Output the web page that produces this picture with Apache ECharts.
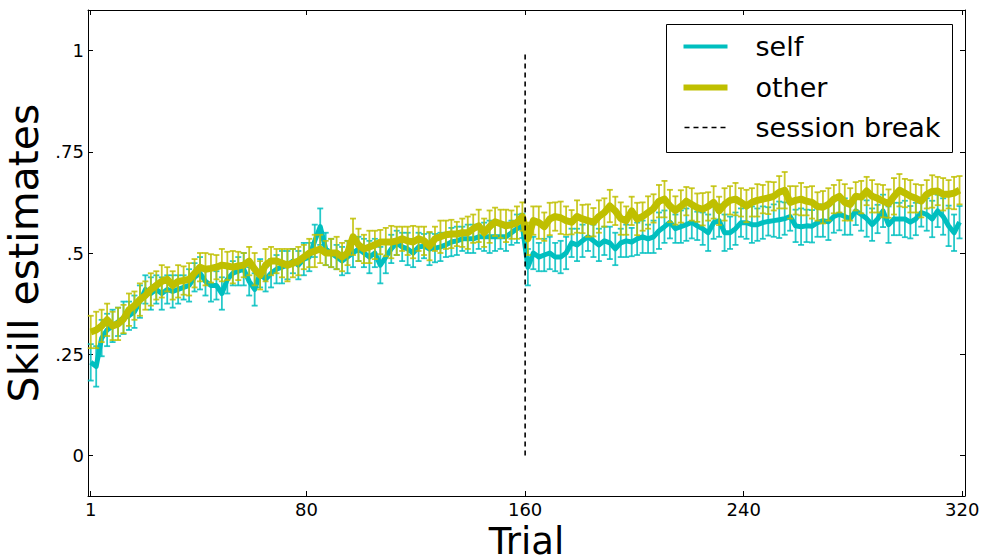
<!DOCTYPE html>
<html><head><meta charset="utf-8">
<script src="https://cdn.jsdelivr.net/npm/echarts@6/dist/echarts.min.js"></script>
<style>html,body{margin:0;padding:0;background:#fff}#c{width:987px;height:560px}</style>
</head><body><div id="c"></div>
<script>
const trials = [1,3,5,7,9,11,13,15,17,19,21,23,25,27,29,31,33,35,37,39,41,43,45,47,49,51,53,55,57,59,61,63,65,67,69,71,73,75,77,79,81,83,85,87,89,91,93,95,97,99,101,103,105,107,109,111,113,115,117,119,121,123,125,127,129,131,133,135,137,139,141,143,145,147,149,151,153,155,157,159,161,163,165,167,169,171,173,175,177,179,181,183,185,187,189,191,193,195,197,199,201,203,205,207,209,211,213,215,217,219,221,223,225,227,229,231,233,235,237,239,241,243,245,247,249,251,253,255,257,259,261,263,265,267,269,271,273,275,277,279,281,283,285,287,289,291,293,295,297,299,301,303,305,307,309,311,313,315,317,319];
const selfVals = [
.23,.22,.29,.31,.32,.33,.34,.345,.355,.38,
.41,.40,.41,.40,.41,.405,.41,.415,.42,.44,
.45,.43,.42,.42,.40,.435,.45,.455,.46,.43,
.41,.45,.435,.45,.46,.465,.47,.48,.47,.485,
.49,.53,.565,.51,.50,.49,.48,.49,.50,.51,
.50,.49,.50,.47,.49,.51,.525,.515,.51,.50,
.515,.517,.51,.512,.515,.52,.527,.53,.535,.535,
.535,.54,.54,.54,.54,.54,.54,.55,.56,.567,
.465,.50,.49,.495,.50,.49,.49,.50,.525,.52,
.53,.54,.53,.52,.53,.525,.51,.525,.53,.527,
.535,.54,.535,.54,.555,.565,.576,.56,.565,.57,
.576,.567,.56,.55,.575,.58,.55,.55,.56,.575,
.575,.57,.57,.575,.578,.58,.582,.585,.59,.567,
.565,.567,.566,.575,.58,.577,.59,.596,.59,.585,
.604,.595,.585,.57,.584,.604,.57,.584,.584,.584,
.576,.584,.60,.595,.584,.604,.59,.567,.55,.576];
const otherVals = [
.305,.31,.32,.335,.32,.325,.337,.36,.37,.385,
.395,.41,.42,.43,.435,.42,.43,.432,.435,.45,
.465,.46,.462,.465,.47,.468,.465,.468,.47,.48,
.46,.445,.47,.48,.48,.475,.47,.475,.48,.49,
.50,.505,.51,.50,.50,.50,.49,.50,.54,.52,
.51,.515,.52,.527,.527,.527,.53,.535,.53,.527,
.535,.53,.517,.535,.54,.545,.547,.547,.55,.55,
.56,.567,.55,.565,.577,.572,.567,.57,.575,.59,
.535,.58,.575,.565,.584,.59,.587,.58,.576,.59,
.584,.58,.576,.59,.60,.616,.604,.585,.58,.604,
.584,.59,.60,.61,.628,.633,.616,.605,.615,.628,
.62,.612,.608,.615,.625,.604,.62,.63,.633,.625,
.616,.625,.63,.633,.636,.64,.65,.655,.625,.63,
.633,.628,.625,.615,.613,.62,.633,.64,.625,.62,
.64,.638,.653,.64,.635,.628,.622,.64,.655,.648,
.64,.635,.628,.645,.652,.653,.645,.645,.648,.655];
const selfErr = [
.045,.05,.045,.04,.04,.035,.04,.035,.04,.04,
.035,.04,.035,.04,.035,.04,.035,.03,.04,.035,
.04,.035,.04,.035,.04,.035,.03,.035,.04,.035,
.04,.035,.03,.035,.035,.04,.035,.03,.035,.04,
.035,.04,.045,.04,.035,.03,.035,.04,.035,.03,
.035,.04,.035,.045,.04,.035,.03,.035,.04,.035,
.035,.03,.04,.035,.035,.03,.035,.035,.03,.035,
.035,.03,.035,.04,.035,.03,.035,.03,.035,.03,
.045,.04,.035,.04,.04,.035,.04,.04,.035,.04,
.04,.035,.04,.04,.035,.04,.04,.035,.04,.035,
.04,.04,.035,.04,.045,.04,.04,.035,.04,.04,
.04,.035,.04,.045,.04,.04,.045,.04,.04,.035,
.04,.045,.04,.04,.035,.04,.045,.04,.035,.04,
.045,.04,.04,.035,.04,.045,.04,.04,.045,.04,
.035,.04,.045,.04,.035,.04,.045,.04,.04,.045,
.04,.04,.035,.04,.045,.04,.045,.05,.045,.04];
const otherErr = [
.04,.045,.04,.04,.035,.04,.035,.04,.035,.04,
.035,.04,.035,.04,.03,.035,.04,.035,.04,.035,
.035,.04,.035,.03,.04,.035,.04,.035,.03,.035,
.04,.035,.04,.035,.03,.035,.04,.035,.035,.03,
.035,.04,.035,.03,.035,.04,.035,.03,.045,.04,
.035,.04,.035,.03,.035,.04,.035,.03,.035,.04,
.03,.035,.035,.03,.04,.035,.035,.03,.035,.04,
.035,.04,.035,.04,.035,.035,.04,.035,.04,.035,
.04,.035,.04,.035,.04,.035,.04,.035,.03,.04,
.035,.04,.035,.04,.035,.04,.035,.04,.035,.035,
.04,.035,.04,.035,.04,.045,.04,.035,.04,.035,
.04,.035,.04,.035,.04,.035,.04,.035,.04,.035,
.04,.035,.04,.035,.04,.035,.04,.045,.04,.035,
.04,.035,.04,.035,.04,.04,.035,.04,.045,.04,
.035,.04,.035,.04,.035,.04,.035,.045,.04,.035,
.04,.035,.04,.035,.04,.035,.04,.035,.04,.035];
const xTicks = [1, 80, 160, 240, 320];
const yTicks = [0, 0.25, 0.5, 0.75, 1];
const yTickLabels = ['0', '.25', '.5', '.75', '1'];
const breakTrial = 160;
const breakRange = [0, 1];
const seriesNames = ['self', 'other', 'session break'];

const C_SELF = '#00bfbf', C_OTHER = '#bfbf00';
const FONT = 'DejaVu Sans';

function errRender(color) {
  return function (params, api) {
    const x = api.value(0), y = api.value(1), e = api.value(2);
    const t = api.coord([x, y + e]), b = api.coord([x, y - e]);
    const cw = 3;
    const st = { stroke: color, lineWidth: 1.8, opacity: 0.85 };
    return { type: 'group', children: [
      { type: 'line', shape: { x1: t[0], y1: t[1], x2: b[0], y2: b[1] }, style: st },
      { type: 'line', shape: { x1: t[0] - cw, y1: t[1], x2: t[0] + cw, y2: t[1] }, style: st },
      { type: 'line', shape: { x1: b[0] - cw, y1: b[1], x2: b[0] + cw, y2: b[1] }, style: st }
    ]};
  };
}

const chart = echarts.init(document.getElementById('c'), null, { renderer: 'svg' });
const axisLineStyle = { show: true, onZero: false, lineStyle: { color: '#000', width: 1 } };
const tickStyle = { show: true, inside: true, length: 5, lineStyle: { color: '#000', width: 1 } };
chart.setOption({
  animation: false,
  backgroundColor: '#fff',
  textStyle: { fontFamily: FONT },
  grid: { left: 88, right: 22, top: 10, bottom: 64, containLabel: false, outerBoundsMode: 'none' },
  xAxis: [{
    type: 'value', min: 0, max: 321, position: 'bottom',
    axisLine: axisLineStyle,
    axisTick: Object.assign({}, tickStyle, { customValues: xTicks }),
    axisLabel: { customValues: xTicks, fontSize: 18, color: '#000', fontFamily: FONT, margin: 4 },
    splitLine: { show: false },
    name: 'Trial', nameLocation: 'middle', nameGap: 19,
    nameTextStyle: { fontSize: 37, color: '#000', fontFamily: FONT }
  }, {
    type: 'value', min: 0, max: 321, position: 'top',
    axisLine: axisLineStyle,
    axisTick: Object.assign({}, tickStyle, { customValues: xTicks }),
    axisLabel: { show: false }, splitLine: { show: false }
  }],
  yAxis: [{
    type: 'value', min: -0.1, max: 1.1, position: 'left',
    axisLine: axisLineStyle,
    axisTick: Object.assign({}, tickStyle, { customValues: yTicks }),
    axisLabel: {
      customValues: yTicks, fontSize: 18, color: '#000', fontFamily: FONT, margin: 4,
      formatter: v => { const i = yTicks.findIndex(t => Math.abs(t - v) < 1e-9); return i >= 0 ? yTickLabels[i] : ''; }
    },
    splitLine: { show: false },
    name: 'Skill estimates', nameLocation: 'middle', nameGap: 44,
    nameTextStyle: { fontSize: 41, color: '#000', fontFamily: FONT }
  }, {
    type: 'value', min: -0.1, max: 1.1, position: 'right',
    axisLine: axisLineStyle,
    axisTick: Object.assign({}, tickStyle, { customValues: yTicks }),
    axisLabel: { show: false }, splitLine: { show: false }
  }],
  series: [
    { type: 'custom', name: seriesNames[0] + ' err', renderItem: errRender(C_SELF),
      data: trials.map((t, i) => [t, selfVals[i], selfErr[i]]), z: 2, silent: true },
    { type: 'line', name: seriesNames[0], data: trials.map((t, i) => [t, selfVals[i]]),
      symbol: 'none', lineStyle: { color: C_SELF, width: 5, join: 'round' }, z: 3 },
    { type: 'custom', name: seriesNames[1] + ' err', renderItem: errRender(C_OTHER),
      data: trials.map((t, i) => [t, otherVals[i], otherErr[i]]), z: 4, silent: true },
    { type: 'line', name: seriesNames[1], data: trials.map((t, i) => [t, otherVals[i]]),
      symbol: 'none', lineStyle: { color: C_OTHER, width: 7, join: 'round' }, z: 5 },
    { type: 'line', name: seriesNames[2], data: breakRange.map(v => [breakTrial, v]),
      symbol: 'none', lineStyle: { color: '#000', width: 1.6, type: [5, 4] }, z: 6 }
  ],
  graphic: [{
    type: 'group', left: 666, top: 24, children: [
      { type: 'rect', shape: { x: 0, y: 0, width: 286, height: 128 }, style: { fill: '#fff', stroke: '#000', lineWidth: 1 } },
      { type: 'line', shape: { x1: 17, y1: 22, x2: 61, y2: 22 }, style: { stroke: C_SELF, lineWidth: 4 } },
      { type: 'line', shape: { x1: 17, y1: 63, x2: 61, y2: 63 }, style: { stroke: C_OTHER, lineWidth: 6 } },
      { type: 'line', shape: { x1: 18, y1: 103, x2: 61, y2: 103 }, style: { stroke: '#000', lineWidth: 1.5, lineDash: [5, 4] } },
      { type: 'text', x: 89, y: 22, style: { text: seriesNames[0], font: '27px "DejaVu Sans"', fill: '#000', verticalAlign: 'middle' } },
      { type: 'text', x: 89, y: 63, style: { text: seriesNames[1], font: '27px "DejaVu Sans"', fill: '#000', verticalAlign: 'middle' } },
      { type: 'text', x: 89, y: 103, style: { text: seriesNames[2], font: '27px "DejaVu Sans"', fill: '#000', verticalAlign: 'middle' } }
    ]
  }]
});
</script></body></html>
